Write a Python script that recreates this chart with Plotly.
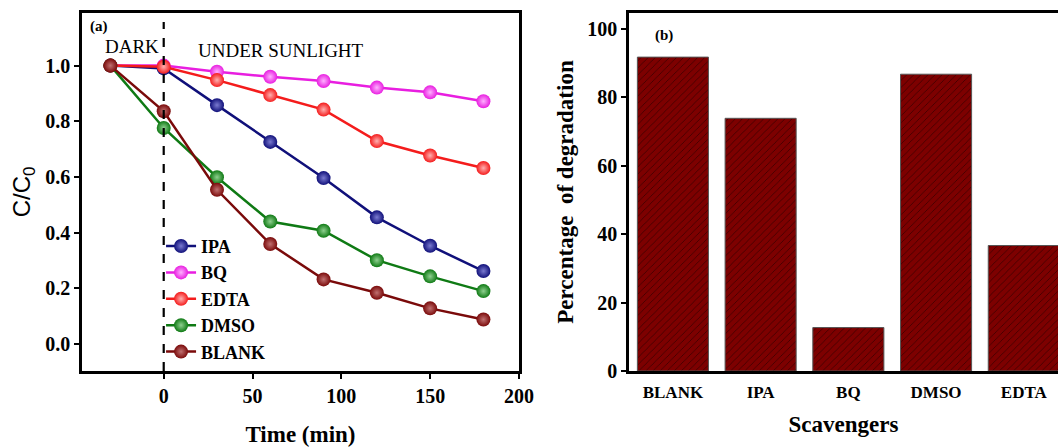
import plotly.graph_objects as go

time_min = [-30, 0, 30, 60, 90, 120, 150, 180]
ipa = [1.0, 0.99, 0.858, 0.726, 0.596, 0.455, 0.353, 0.262]
bq = [1.0, 1.0, 0.978, 0.960, 0.945, 0.921, 0.904, 0.872]
edta = [1.0, 0.996, 0.948, 0.894, 0.842, 0.729, 0.677, 0.632]
dmso = [1.0, 0.776, 0.599, 0.440, 0.407, 0.301, 0.243, 0.190]
blank = [1.0, 0.836, 0.554, 0.359, 0.232, 0.184, 0.128, 0.088]

scavengers = ["BLANK", "IPA", "BQ", "DMSO", "EDTA"]
degradation = [91.8, 73.9, 12.7, 86.8, 36.7]

series = [
    ("IPA", ipa, "#10107a", "#7a7ad0"),
    ("BQ", bq, "#e81ee0", "#ffb0ff"),
    ("EDTA", edta, "#f41c1c", "#ffb0b0"),
    ("DMSO", dmso, "#0f7a14", "#8fd08f"),
    ("BLANK", blank, "#7a0a0a", "#c07070"),
]

SERIF = "Liberation Serif"
fig = go.Figure()
for name, vals, col, light in series:
    fig.add_trace(go.Scatter(
        x=time_min, y=vals, name=name, mode="lines+markers",
        line=dict(color=col, width=2.5),
        marker=dict(size=14, color=col, gradient=dict(type="radial", color=light),
                    line=dict(width=0)),
        xaxis="x", yaxis="y",
    ))

fig.add_trace(go.Bar(
    x=scavengers, y=degradation, width=0.81, showlegend=False,
    marker=dict(color="#7d0000", line=dict(color="#555555", width=1),
                pattern=dict(shape="/", fgcolor="#3a0000", bgcolor="#7d0000",
                             size=5, solidity=0.15)),
    xaxis="x2", yaxis="y2",
))

axis_common = dict(showline=True, linecolor="black", linewidth=2.5, mirror=True,
                   showgrid=False, zeroline=False, ticks="outside", ticklen=5,
                   tickwidth=2, tickcolor="black", automargin=False,
                   tickfont=dict(family=SERIF, size=20, color="black", weight="bold"))

fig.update_layout(
    template="none",
    width=1058, height=447, autosize=False,
    margin=dict(l=82, r=0, t=13, b=76),
    plot_bgcolor="white", paper_bgcolor="white",
    xaxis=dict(domain=[0, 0.4477], range=[-46, 200], tickvals=[0, 50, 100, 150, 200],
               title=dict(text="Time (min)", standoff=22,
                          font=dict(family=SERIF, size=23, color="black", weight="bold")),
               anchor="y", **axis_common),
    yaxis=dict(range=[-0.097, 1.189], tickvals=[0, 0.2, 0.4, 0.6, 0.8, 1.0],
               tickformat=".1f", anchor="x",
               title=dict(text="C/C<sub>0</sub>", standoff=8,
                          font=dict(family="Liberation Sans", size=24, color="black")),
               **axis_common),
    xaxis2=dict(domain=[0.5605, 1], range=[-0.5, 4.39], anchor="y2",
                showline=True, linecolor="black", linewidth=2.5, mirror=True,
                showgrid=False, zeroline=False, ticks="", ticklabelstandoff=4,
                automargin=False,
                tickfont=dict(family=SERIF, size=17, color="black", weight="bold"),
                title=dict(text="Scavengers", standoff=15,
                           font=dict(family=SERIF, size=23, color="black", weight="bold"))),
    yaxis2=dict(range=[0, 104.7], tickvals=[0, 20, 40, 60, 80, 100], anchor="x2",
                showline=True, linecolor="black", linewidth=2.5, mirror=False,
                showgrid=False, zeroline=False, ticks="outside", ticklen=5,
                tickwidth=2, tickcolor="black", automargin=False,
                tickfont=dict(family=SERIF, size=20, color="black", weight="bold"),
                title=dict(text="Percentage  of degradation", standoff=8,
                           font=dict(family=SERIF, size=23, color="black", weight="bold"))),
    legend=dict(x=0.081, y=0.40, xanchor="left", yanchor="top",
                bgcolor="rgba(0,0,0,0)", borderwidth=0,
                font=dict(family=SERIF, size=18, color="black", weight="bold")),
)

fig.add_shape(type="line", xref="x", yref="y domain", x0=0, x1=0, y0=0, y1=0.975,
              line=dict(color="black", width=2.2, dash="dash"))

fig.add_annotation(text="(a)", xref="x domain", yref="y domain", x=0.014, y=0.961,
                   xanchor="left", yanchor="middle", showarrow=False,
                   font=dict(family=SERIF, size=15, color="black", weight="bold"))
fig.add_annotation(text="DARK", xref="x", yref="y", x=-18, y=1.067,
                   showarrow=False, font=dict(family=SERIF, size=19, color="black"))
fig.add_annotation(text="UNDER SUNLIGHT", xref="x", yref="y", x=66, y=1.056,
                   showarrow=False, font=dict(family=SERIF, size=19, color="black"))
fig.add_annotation(text="(b)", xref="x2 domain", yref="y2 domain", x=0.056, y=0.9385,
                   xanchor="left", yanchor="middle", showarrow=False,
                   font=dict(family=SERIF, size=15, color="black", weight="bold"))

fig.write_html("out.html", config={"responsive": False})
